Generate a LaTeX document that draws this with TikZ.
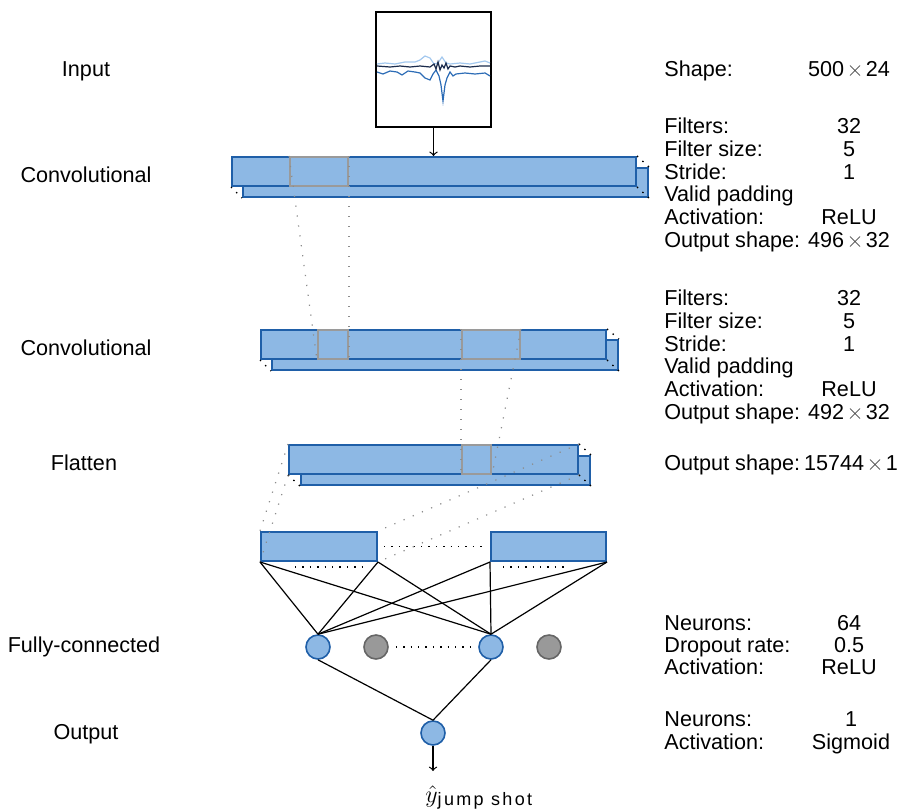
\documentclass[tikz,border=0pt]{standalone}
\usepackage{amsmath}
\usepackage{fontspec}
\setmainfont{Liberation Sans}
\usepackage{tikz}
\usetikzlibrary{
  fit,
  calc,
  arrows
}
\definecolor{layerfill}{HTML}{8DB8E4}
\definecolor{layerdraw}{HTML}{1F5FA8}
\definecolor{kernelgray}{HTML}{9A9A9A}
\definecolor{dropgray}{HTML}{999999}
\definecolor{sigA}{HTML}{A3C8EE}
\definecolor{sigB}{HTML}{1A2B4C}
\definecolor{sigC}{HTML}{2C6CB6}
\newcommand{\dimx}[2]{#1\kern1.2pt{\color{black!75}$\times$}\kern1.2pt#2}

\begin{document}
\begin{tikzpicture}[x=0.5pt,y=-0.5pt,
  every node/.style={font=\fontsize{10.8}{12}\selectfont},
  layer/.style={draw=layerdraw, fill=layerfill, line width=1pt, inner sep=0pt},
  kernel/.style={draw=kernelgray, line width=1pt, inner sep=0pt},
  neuron/.style={circle, draw=layerdraw, fill=layerfill, line width=0.8pt, minimum size=12pt, inner sep=0pt},
  dropped/.style={circle, draw=black!60, fill=dropgray, line width=0.8pt, minimum size=12pt, inner sep=0pt},
  rf/.style={draw=black!45, line width=0.6pt, dash pattern=on 0.6pt off 4.4pt},
  dots/.style={line width=0.7pt, dash pattern=on 0.7pt off 3pt},
  wire/.style={line width=0.6pt},
  info/.style={anchor=base west, inner sep=0pt},
  num/.style={anchor=base, inner sep=0pt},
  side/.style={anchor=base, inner sep=0pt}
]
\useasboundingbox (0,0) rectangle (898,809);

% input window
\node[draw, line width=0.6pt, inner sep=0pt, fit={(376,12) (491,127)}] (inp) {};
\draw[sigA, line width=0.6pt] plot coordinates {(377,64) (385,63) (395,64) (405,62) (415,62) (420,60) (425,56) (430,58) (434,64) (438,63) (442,57) (446,63) (450,64) (460,63) (470,64) (480,62) (485,61) (490,63)};
\draw[sigC, line width=0.6pt] plot coordinates {(377,72) (383,74) (390,71) (397,72) (402,75) (408,71) (415,72) (420,73) (425,78) (430,80) (433,74) (436,70) (439,76) (441,85) (443,101) (445,85) (447,78) (450,72) (453,76) (456,74) (465,73) (475,74) (485,73) (490,76)};
\draw[sigB, line width=0.6pt] plot coordinates {(377,66) (390,67) (400,66) (410,67) (420,66) (430,67) (434,64) (436,69) (438,62) (440,70) (442,65) (444,68) (446,63) (448,69) (450,66) (455,67) (460,66) (470,67) (480,66) (490,66)};

% conv 1
\node[layer, fit={(243,168) (648,197)}] (c1b) {};
\node[layer, fit={(232,157) (636,186)}] (c1f) {};
\node[kernel, fit={(290,157) (348,186)}] (c1k) {};
\draw[dots] (c1f.north east) -- (c1b.north east);
\draw[dots] (c1f.south west) -- (c1b.south west);
\draw[dots] (c1f.south east) -- (c1b.south east);
\draw[->, wire] (inp.south) -- (inp.south |- c1f.north);

% conv 2
\node[layer, fit={(272,340) (618,370)}] (c2b) {};
\node[layer, fit={(261,330) (606,359)}] (c2f) {};
\node[kernel, fit={(318,330) (348,359)}] (c2k1) {};
\node[kernel, fit={(462,330) (520,359)}] (c2k2) {};
\draw[dots] (c2f.north east) -- (c2b.north east);
\draw[dots] (c2f.south west) -- (c2b.south west);
\draw[dots] (c2f.south east) -- (c2b.south east);

% flatten
\node[layer, fit={(301,456) (590,485)}] (flb) {};
\node[layer, fit={(289,445) (578,474)}] (flf) {};
\node[kernel, fit={(462,445) (491,474)}] (flk) {};
\draw[dots] (flf.north east) -- (flb.north east);
\draw[dots] (flf.south west) -- (flb.south west);
\draw[dots] (flf.south east) -- (flb.south east);

% dense input
\node[layer, fit={(261,532) (377,561)}] (dl) {};
\node[layer, fit={(491,532) (606,561)}] (dr) {};
\draw[dots, shorten <=3pt, shorten >=3pt] (dl.east) -- (dr.west);
\draw[dots] ($(dl.south west)+(35,5)$) -- ($(dl.south east)+(-11,5)$);
\draw[dots] ($(dr.south west)+(13,5)$) -- ($(dr.south east)+(-40,5)$);

% receptive fields
\draw[rf] (c1k.north west) -- (c2k1.south west);
\draw[rf] (c1k.north east) -- (c2k1.south east);
\draw[rf] (c2k2.north west) -- (flk.south west);
\draw[rf] (c2k2.north east) -- (flk.south east);
\draw[rf] (flf.north west) -- (dl.north west);
\draw[rf] (flf.south west) -- (dl.south west);
\draw[rf] (flf.north east) -- (dl.north east);
\draw[rf] (flf.south east) -- (dl.south east);

% fully-connected
\node[neuron] (h1) at (318,647) {};
\node[dropped] (g1) at (376,647) {};
\node[neuron] (h2) at (491,647) {};
\node[dropped] (g2) at (549,647) {};
\draw[dots, shorten <=3.5pt, shorten >=3.5pt] (g1.east) -- (h2.west);
\foreach \src in {dl.south west, dl.south east, dr.south west, dr.south east}{
  \draw[wire] (\src) -- (h1.north);
  \draw[wire] (\src) -- (h2.north);
}

% output
\node[neuron] (out) at (433,733) {};
\draw[wire] (h1.south) -- (out.north);
\draw[wire] (h2.south) -- (out.north);
\coordinate (yend) at (433,771);
\draw[->, wire] (out.south) -- (yend);
\node[anchor=base west, inner sep=0pt, font=\fontsize{12}{14}\selectfont] (yhat) at (425,802)
  {$\hat{y}$\raisebox{-1.5pt}{\fontsize{9}{10}\selectfont\addfontfeatures{LetterSpace=13}jump shot}};

% layer names
\node[side] (n1) at (86,76.5) {Input};
\node[side] (n2) at (86,182.5) {Convolutional};
\node[side] (n3) at (86,355.5) {Convolutional};
\node[side] (n4) at (84,470.5) {Flatten};
\node[side] (n5) at (84,652.5) {Fully-connected};
\node[side] (n6) at (86,739.5) {Output};

% settings
\node[info] (s0) at (664,76.5) {Shape:};
\node[num] (v0) at (849,76.5) {\dimx{500}{24}};
\foreach \lab/\val [count=\i from 0] in {Filters:/32, Filter size:/5, Stride:/1, Valid padding/{}, Activation:/ReLU, Output shape:/\dimx{496}{32}}{
  \node[info] (a\i) at (664,{133.5+22.8*\i}) {\lab};
  \node[num] (av\i) at (849,{133.5+22.8*\i}) {\val};
}
\foreach \lab/\val [count=\i from 0] in {Filters:/32, Filter size:/5, Stride:/1, Valid padding/{}, Activation:/ReLU, Output shape:/\dimx{492}{32}}{
  \node[info] (b\i) at (664,{305.5+22.8*\i}) {\lab};
  \node[num] (bv\i) at (849,{305.5+22.8*\i}) {\val};
}
\node[info] (f0) at (664,470.5) {Output shape:};
\node[num] (fv0) at (851,470.5) {\dimx{15744}{1}};
\foreach \lab/\val [count=\i from 0] in {Neurons:/64, Dropout rate:/0.5, Activation:/ReLU}{
  \node[info] (d\i) at (664,{630.5+22*\i}) {\lab};
  \node[num] (dv\i) at (849,{630.5+22*\i}) {\val};
}
\foreach \lab/\val [count=\i from 0] in {Neurons:/1, Activation:/Sigmoid}{
  \node[info] (o\i) at (664,{726.5+23*\i}) {\lab};
  \node[num] (ov\i) at (851,{726.5+23*\i}) {\val};
}
\end{tikzpicture}
\end{document}
